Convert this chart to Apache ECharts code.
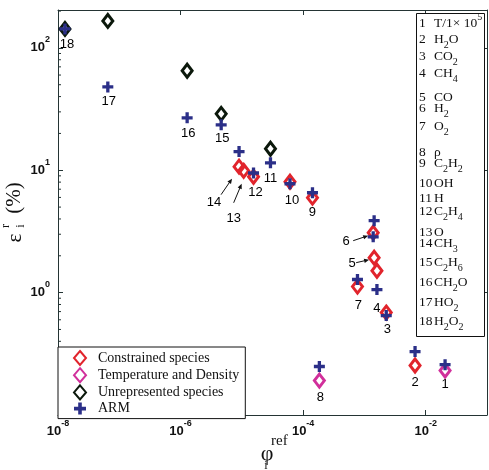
<!DOCTYPE html>
<html><head><meta charset="utf-8">
<script src="https://cdn.jsdelivr.net/npm/echarts@6/dist/echarts.min.js"></script>
<style>html,body{margin:0;padding:0;background:#fff}#c{width:489px;height:470px}</style>
</head><body><div id="c"></div>
<script>
// ---------------- data ----------------
const speciesNames = ['T/1× 10^5','H_2O','CO_2','CH_4','CO','H_2','O_2','ρ','C_2H_2','OH','H','C_2H_4','O','CH_3','C_2H_6','CH_2O','HO_2','H_2O_2'];
const phiRef = [2.07e-2, 6.7e-3, 2.27e-3, 1.6e-3, 1.44e-3, 1.39e-3, 7.7e-4, 1.84e-4, 1.42e-4, 6.1e-5, 2.93e-5, 1.55e-5, 1.07e-5, 9.0e-6, 4.6e-6, 1.28e-6, 6.5e-8, 1.3e-8];
const constrained   = [null, 0.254, 0.687, 1.51, 1.93, 3.09, 1.12, null, 5.97, 8.06, null, 8.85, 9.9, 10.7, null, null, null, null];
const tempDensity   = [0.231, null, null, null, null, null, null, 0.191, null, null, null, null, null, null, null, null, null, null];
const unrepresented = [null, null, null, null, null, null, null, null, null, null, 15.0, null, null, null, 28.9, 65, 166, 143];
const arm           = [0.258, 0.33, 0.649, 1.06, 3.87, 2.86, 1.28, 0.249, 6.55, 7.76, 11.5, 9.5, null, 14.2, 23.5, 26.8, 48, 143];
const legendNames = ['Constrained species','Temperature and Density','Unrepresented species','ARM'];
const xRange = [1e-8, 1e-1];
const yRange = [0.1, 204];

// ---------------- style ----------------
const SERIF = '"Liberation Serif","Times New Roman",serif';
const SANS = '"Liberation Sans",Arial,sans-serif';
const AXIS = '#243434';
const RED = '#e1242c', MAGENTA = '#d12f9b', BLACK = '#0b180b', NAVY = '#2b2f88';
const PLUS = 'path://M3.5,0H6.5V3.5H10V6.5H6.5V10H3.5V6.5H0V3.5H3.5Z';
const labelOffsets = [[0,14],[0,17],[1,14],[0,19],[-22,6],[-27,5],[1,19],[1,17],[0,15],[2,17],[0,16],[2,16],[-10,48],[-25,36],[1,14],[1,16],[1,15],[2,16]];
const arrowGeom = {14:{tail:[-18,28],head:[-7,12]},13:{tail:[-10,32],head:[-2,13]},6:{tail:[-20,8],head:[-5,3]},5:{tail:[-18,5],head:[-5,2]}};
const listY = [23,39,56,73,97,108,126,152,163,183,198,211,232,243,262,282,302,321];

const tickRich = {
  b: {fontFamily: SANS, fontSize: 13, fontWeight: 'bold', color: '#111', verticalAlign: 'middle'},
  s: {fontFamily: SANS, fontSize: 9, fontWeight: 'bold', color: '#111', padding: [0,0,16,0], verticalAlign: 'middle'}
};
function powLabel(v, allowed) {
  const l = Math.log10(v), e = Math.round(l);
  if (Math.abs(l - e) > 1e-6) return '';
  if (allowed.indexOf(e) < 0) return '';
  return '{b|10}{s|' + (e < 0 ? '-' : '') + Math.abs(e) + '}';
}
function pts(arr) {
  return phiRef.map((x, i) => arr[i] == null ? null : [x, arr[i]]).filter(Boolean);
}
function toRich(s) {
  const parts = s.split(/([_^]\w)/).filter(t => t.length);
  return parts.map(t => t[0] === '_' ? '{sub|' + t.slice(1) + '}' : t[0] === '^' ? '{sup|' + t.slice(1) + '}' : '{m|' + t + '}').join('');
}

const minorVals = [];
for (let k = -1; k <= 2; k++) for (let m = 2; m <= 9; m++) {
  const v = m * Math.pow(10, k);
  if (v <= yRange[1]) minorVals.push([xRange[0], v]);
}

const labelData = phiRef.map((x, i) => {
  const vals = [constrained[i], tempDensity[i], unrepresented[i], arm[i]].filter(v => v != null);
  return {value: [x, Math.min.apply(null, vals)], label: {offset: labelOffsets[i]}};
});
const arrowData = Object.keys(arrowGeom).map(k => {
  const i = +k - 1;
  return [phiRef[i], constrained[i], +k];
});

const listRich = {
  n: {width: 15, fontFamily: SERIF, fontSize: 13.5, color: '#111', verticalAlign: 'middle'},
  m: {fontFamily: SERIF, fontSize: 13.5, color: '#111', verticalAlign: 'middle'},
  sub: {fontFamily: SERIF, fontSize: 10, color: '#111', padding: [12,0,0,0], verticalAlign: 'middle'},
  sup: {fontFamily: SERIF, fontSize: 10, color: '#111', padding: [0,0,12,0], verticalAlign: 'middle'}
};
const graphics = [
  {type: 'rect', shape: {x: 416.5, y: 13.5, width: 68, height: 323}, style: {fill: '#fff', stroke: '#111', lineWidth: 1}, z: 100}
];
speciesNames.forEach((nm, i) => {
  graphics.push({type: 'text', x: 419, y: listY[i], z: 101,
    style: {text: '{n|' + (i + 1) + '}' + toRich(nm), rich: listRich, fontFamily: SERIF, fontSize: 13.5, fill: '#111', verticalAlign: 'middle', align: 'left'}});
});
graphics.push(
  {type: 'text', x: 267, y: 454, style: {text: 'φ', fontFamily: SERIF, fontSize: 22, fill: '#111', align: 'center', verticalAlign: 'middle'}},
  {type: 'text', x: 271, y: 441, style: {text: 'ref', fontFamily: SERIF, fontSize: 15, fill: '#111', align: 'left', verticalAlign: 'middle'}},
  {type: 'text', x: 266, y: 466, style: {text: 'i', fontFamily: SERIF, fontSize: 12, fill: '#111', align: 'center', verticalAlign: 'middle'}},
  {type: 'text', x: 15, y: 238, rotation: Math.PI / 2, style: {text: 'ε', fontFamily: SERIF, fontSize: 21, fill: '#111', align: 'center', verticalAlign: 'middle'}},
  {type: 'text', x: 6, y: 226, rotation: Math.PI / 2, style: {text: 'r', fontFamily: SERIF, fontSize: 12, fill: '#111', align: 'center', verticalAlign: 'middle'}},
  {type: 'text', x: 21, y: 226, rotation: Math.PI / 2, style: {text: 'i', fontFamily: SERIF, fontSize: 12, fill: '#111', align: 'center', verticalAlign: 'middle'}},
  {type: 'text', x: 14, y: 198, rotation: Math.PI / 2, style: {text: '(%)', fontFamily: SERIF, fontSize: 21, fill: '#111', align: 'center', verticalAlign: 'middle'}}
);

function axisCommon(extra) {
  return Object.assign({
    axisLine: {show: true, onZero: false, lineStyle: {color: AXIS, width: 1}},
    axisTick: {show: true, inside: true, length: 5, lineStyle: {color: AXIS}},
    splitLine: {show: false},
    minorTick: {show: false},
    minorSplitLine: {show: false}
  }, extra);
}

const diamond = (color) => ({symbol: 'diamond', symbolSize: [10, 13], itemStyle: {color: 'rgba(255,255,255,0)', borderColor: color, borderWidth: 3, opacity: 1}});

const option = {
  animation: false,
  backgroundColor: '#fff',
  grid: {left: 58, top: 10, width: 429, height: 405, outerBoundsMode: 'none', containLabel: false},
  xAxis: [
    axisCommon({type: 'log', logBase: 100, min: xRange[0], max: xRange[1], position: 'bottom',
      axisLabel: {formatter: v => powLabel(v, [-8, -6, -4, -2]), rich: tickRich, margin: 4}}),
    axisCommon({type: 'log', logBase: 100, min: xRange[0], max: xRange[1], position: 'top', axisLabel: {show: false}})
  ],
  yAxis: [
    axisCommon({type: 'log', logBase: 10, min: yRange[0], max: yRange[1], position: 'left',
      axisLabel: {formatter: v => powLabel(v, [0, 1, 2]), rich: tickRich, margin: 8}}),
    axisCommon({type: 'log', logBase: 10, min: yRange[0], max: yRange[1], position: 'right', axisLabel: {show: false}})
  ],
  legend: {
    data: legendNames, orient: 'vertical', left: 58, top: 347,
    itemWidth: 12, itemHeight: 14, itemGap: 1.2, padding: [3, 6, 3, 15],
    borderColor: '#111', borderWidth: 1, backgroundColor: '#fff',
    textStyle: {fontFamily: SERIF, fontSize: 14, color: '#111', padding: [0, 0, 0, 7]},
    selectedMode: false, z: 50
  },
  graphic: graphics,
  series: [
    {type: 'custom', silent: true, clip: false, data: minorVals,
      renderItem: (params, api) => {
        const p = api.coord([api.value(0), api.value(1)]);
        return {type: 'line', shape: {x1: p[0], y1: p[1], x2: p[0] + 3, y2: p[1]}, style: {stroke: AXIS, lineWidth: 1}};
      }},
    {type: 'custom', silent: true, clip: false, data: arrowData,
      renderItem: (params, api) => {
        const p = api.coord([api.value(0), api.value(1)]);
        const g = arrowGeom[api.value(2)];
        const tx = p[0] + g.tail[0], ty = p[1] + g.tail[1];
        const hx = p[0] + g.head[0], hy = p[1] + g.head[1];
        let dx = hx - tx, dy = hy - ty; const L = Math.hypot(dx, dy); dx /= L; dy /= L;
        const nx = -dy, ny = dx, al = 5, aw = 2.2;
        return {type: 'group', children: [
          {type: 'line', shape: {x1: tx, y1: ty, x2: hx - dx * 3, y2: hy - dy * 3}, style: {stroke: '#111', lineWidth: 1}},
          {type: 'polygon', shape: {points: [[hx, hy], [hx - dx * al + nx * aw, hy - dy * al + ny * aw], [hx - dx * al - nx * aw, hy - dy * al - ny * aw]]}, style: {fill: '#111'}}
        ]};
      }},
    {type: 'scatter', name: 'labels', silent: true, data: labelData, symbolSize: 1,
      itemStyle: {color: 'rgba(0,0,0,0)', opacity: 1},
      label: {show: true, position: 'inside', formatter: p => String(p.dataIndex + 1), fontFamily: SANS, fontSize: 13, color: '#000', opacity: 1}},
    Object.assign({type: 'scatter', name: legendNames[0], data: pts(constrained), z: 3}, diamond(RED)),
    Object.assign({type: 'scatter', name: legendNames[1], data: pts(tempDensity), z: 3}, diamond(MAGENTA)),
    Object.assign({type: 'scatter', name: legendNames[2], data: pts(unrepresented), z: 3}, diamond(BLACK)),
    {type: 'scatter', name: legendNames[3], data: pts(arm), symbol: PLUS, symbolSize: 11, itemStyle: {color: NAVY, opacity: 1}, z: 4}
  ]
};
const chart = echarts.init(document.getElementById('c'));
chart.setOption(option);
</script>
</body></html>
